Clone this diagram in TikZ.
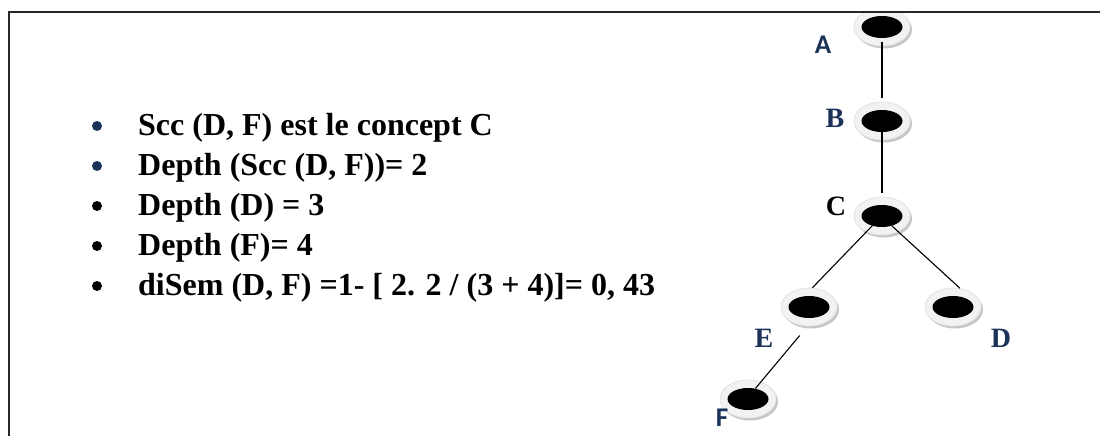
\documentclass[tikz,border=0pt]{standalone}
\usepackage{fontspec}
\setmainfont{Liberation Serif}
\newfontfamily\lblsans{Carlito}
\usetikzlibrary{shapes.geometric}
\definecolor{navy}{HTML}{1B3358}
\begin{document}
\begin{tikzpicture}[x=1pt,y=-1pt,
  ring/.style={ellipse, minimum width=56, minimum height=38, inner sep=0, fill=gray!10, draw=gray!22, line width=0.8pt},
  ringshadow/.style={ellipse, minimum width=56, minimum height=38, inner sep=0, fill=gray!45},
  core/.style={ellipse, minimum width=41, minimum height=22, inner sep=0, fill=black},
  edge/.style={line width=1.1pt, black},
  bul/.style={circle, minimum size=10, inner sep=0},
  txt/.style={anchor=base west, inner sep=0, font=\fontsize{32}{38}\selectfont\bfseries},
  lblserif/.style={inner sep=0, font=\fontsize{28}{32}\selectfont\bfseries},
  lblss/.style={inner sep=0, font=\lblsans\fontsize{27}{30}\selectfont\bfseries, text=navy}
]
\useasboundingbox (0,0) rectangle (1100,436);
\fill[white] (0,0) rectangle (1100,436);

% bullets and text
\node[bul, fill=navy]  (b1) at (97,126) {};
\node[bul, fill=navy]  (b2) at (97,166) {};
\node[bul, fill=black] (b3) at (97,206) {};
\node[bul, fill=black] (b4) at (97,246) {};
\node[bul, fill=black] (b5) at (97,286) {};
\node[txt] (t1) at (138,135) {Scc (D, F) est le concept C};
\node[txt] (t2) at (138,175) {Depth (Scc (D, F))= 2};
\node[txt] (t3) at (138,215) {Depth (D) = 3};
\node[txt] (t4) at (138,255) {Depth (F)= 4};
\node[txt] (t5) at (138,295) {diSem (D, F) =1- [ 2. 2 / (3 + 4)]= 0, 43};

% tree
\begin{scope}
\clip (10,13) rectangle (1100,436);
\foreach \n/\p in {A/{882,27},B/{882,121},C/{882,216},E/{809,307},D/{953,307},F/{748,399}}{
  \node[ringshadow] (s\n) at ([shift={(2,2.5)}]\p) {};
  \node[ring] (r\n) at (\p) {};
}
\node[core] (A) at (882,27) {};
\node[core] (B) at (882,121) {};
\node[core] (C) at (882,216) {};
\node[core] (E) at (809,307) {};
\node[core] (D) at (953,307) {};
\node[core] (F) at (748,399) {};
\draw[edge, shorten <=4pt, shorten >=4pt] (A.south) -- (rB.north);
\draw[edge, shorten >=4pt] (B.south) -- (rC.north);
\draw[edge] (C.-135) -- (rE.80);
\draw[edge] (C.-45) -- (rD.70);
\draw[edge, shorten <=12pt] (rE.-95) -- (F.55);
\end{scope}

% labels
\node[lblss] (lA) at (823,45) {A};
\node[lblserif, text=navy] (lB) at (835,118) {B};
\node[lblserif, text=black] (lC) at (836,206) {C};
\node[lblserif, text=navy] (lE) at (764,338) {E};
\node[lblserif, text=navy] (lD) at (1001,338) {D};
\node[lblss] (lF) at (722,418) {F};

% frame
\draw[line width=1.8pt, black!85] (9,436) -- (9,12) -- (1100,12);
\end{tikzpicture}
\end{document}
